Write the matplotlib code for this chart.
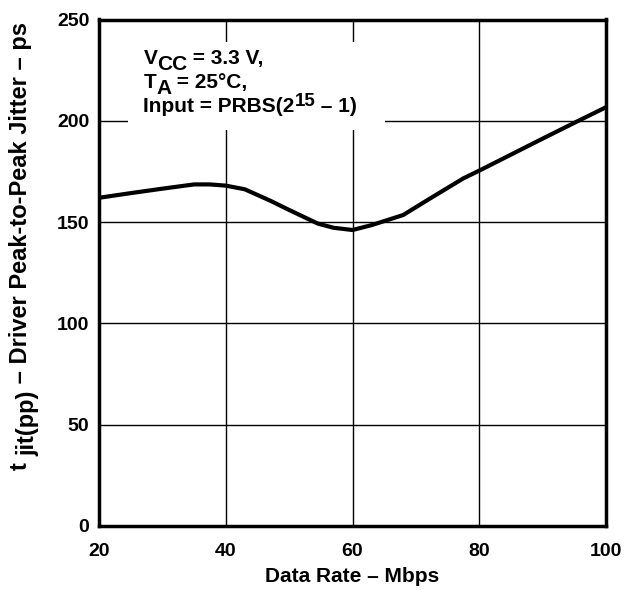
import matplotlib
matplotlib.use("Agg")
import matplotlib.pyplot as plt
from matplotlib.patches import Rectangle

plt.rcParams['font.family'] = ['Liberation Sans', 'DejaVu Sans']
plt.rcParams['font.weight'] = 'bold'

# data
data_rate = [20, 25, 30, 35, 37.5, 40, 43, 47, 50, 54.5, 57, 60, 63, 68, 72,
             77.5, 80, 85, 90, 95, 100]
jitter = [162, 164.3, 166.5, 168.6, 168.6, 168, 166.2, 160.6, 156, 149.3, 147.2,
          146.1, 148.5, 153.5, 161.2, 171.6, 175.4, 183.3, 191.2, 199, 206.7]

x_ticks = [20, 40, 60, 80, 100]
y_ticks = [0, 50, 100, 150, 200, 250]

fig = plt.figure(figsize=(6.3, 5.9), dpi=100)
ax = fig.add_axes([99 / 630, 1 - 526 / 590, 507 / 630, 506.5 / 590])

ax.plot(data_rate, jitter, color='black', lw=3, solid_capstyle='butt', zorder=4)

ax.set_xlim(20, 100)
ax.set_ylim(0, 250)
ax.set_xticks(x_ticks)
ax.set_yticks(y_ticks)
ax.tick_params(length=0, labelsize=14)
ax.tick_params(axis='x', pad=12)
ax.tick_params(axis='y', pad=7)
ax.grid(True, color='black', lw=1)
for s in ax.spines.values():
    s.set_linewidth(2.5)

ax.set_xlabel("Data Rate \u2013 Mbps", fontsize=15, fontweight='bold', labelpad=5)

lab = 17


def chain_up(prev, s, dx=0):
    # next piece of the rotated y label, stacked above the previous one
    return ax.annotate(s, xy=(0, 1), xycoords=prev, xytext=(dx, 0),
                       textcoords='offset points', rotation=90,
                       ha='left', va='bottom', fontsize=lab, fontweight='bold')


t = fig.text(9 / 630, 120 / 590, "t ", rotation=90, ha='left', va='bottom',
             fontsize=lab, fontweight='bold')
t = chain_up(t, "jit(pp)", dx=5)
chain_up(t, " \u2013 Driver Peak-to-Peak Jitter \u2013 ps", dx=-5)

# white box behind the conditions text
ax.add_patch(Rectangle((24.6, 195.5), 40.5, 43.4, facecolor='white',
                       edgecolor='none', zorder=2.5))

fs = 15


def chain(prev, s, dy=0, size=fs):
    return ax.annotate(s, xy=(1, 0), xycoords=prev, xytext=(0, dy),
                       textcoords='offset points', ha='left', va='bottom',
                       fontsize=size, fontweight='bold', zorder=5)


t = ax.text(27.0, 228.0, "V", fontsize=fs, fontweight='bold', va='baseline', zorder=5)
t = chain(t, "CC", dy=-4)
chain(t, " = 3.3 V,", dy=4)

t = ax.text(27.0, 216.2, "T", fontsize=fs, fontweight='bold', va='baseline', zorder=5)
t = chain(t, "A", dy=-4)
chain(t, " = 25\u00b0C,", dy=4)

t = ax.text(27.0, 204.4, "Input = PRBS(2", fontsize=fs, fontweight='bold', va='baseline', zorder=5)
t = chain(t, "15", dy=4.5, size=13.5)
chain(t, " \u2013 1)", dy=-4.5)

fig.savefig("out.png", dpi=100)
